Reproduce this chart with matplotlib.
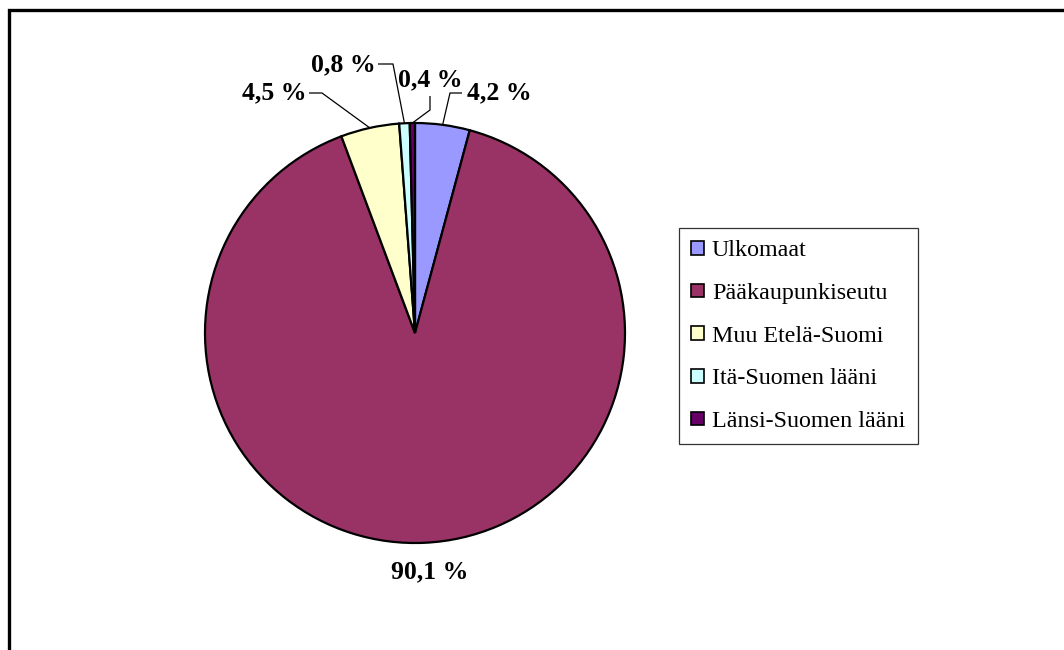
import matplotlib
matplotlib.use("Agg")
import matplotlib.pyplot as plt
from matplotlib.patches import Rectangle
import numpy as np

categories = ["Ulkomaat", "Pääkaupunkiseutu", "Muu Etelä-Suomi",
              "Itä-Suomen lääni", "Länsi-Suomen lääni"]
values = [4.2, 90.1, 4.5, 0.8, 0.4]
labels = ["4,2 %", "90,1 %", "4,5 %", "0,8 %", "0,4 %"]
colors = ["#9999FF", "#993366", "#FFFFCC", "#CCFFFF", "#660066"]

W, H = 1064, 650
fig = plt.figure(figsize=(W / 100, H / 100), dpi=100)
fig.patch.set_facecolor("white")
ax = fig.add_axes([0, 0, 1, 1])

cx, cy, R = 415, H - 333, 210
wedges, _ = ax.pie(values, colors=colors, startangle=90, counterclock=False,
                   center=(cx, cy), radius=R, frame=True,
                   wedgeprops=dict(edgecolor="black", linewidth=1.6))
ax.set_xlim(0, W)
ax.set_ylim(0, H)
ax.set_aspect("equal")
ax.axis("off")

# label positions (pixel coords from top-left): text anchor, elbow, text end, alignment
label_layout = {
    0: dict(text=(467, 93), ha="left", elbow=(450, 93), end=(462, 93)),
    2: dict(text=(307, 93), ha="right", elbow=(322, 93), end=(309, 93)),
    3: dict(text=(376, 65), ha="right", elbow=(393, 64), end=(378, 64)),
    4: dict(text=(430, 80), ha="center", elbow=(430, 110), end=(430, 96)),
}
font_lab = dict(family="Liberation Serif", fontweight="bold", fontsize=18.5)

for i, w in enumerate(wedges):
    mid = np.deg2rad((w.theta1 + w.theta2) / 2)
    ex, ey = cx + R * np.cos(mid), cy + R * np.sin(mid)
    if i in label_layout:
        L = label_layout[i]
        tx, ty = L["text"]
        ax.text(tx, H - ty, labels[i], ha=L["ha"], va="center", **font_lab)
        xs = [ex, L["elbow"][0], L["end"][0]]
        ys = [ey, H - L["elbow"][1], H - L["end"][1]]
        ax.plot(xs, ys, color="black", linewidth=0.9, solid_capstyle="butt")
    else:
        ax.text(430, H - 572, labels[i], ha="center", va="center", **font_lab)

leg = ax.legend(wedges, categories, loc="upper left",
                bbox_to_anchor=(679 / W, 1 - 228 / H),
                bbox_transform=fig.transFigure,
                prop=dict(family="Liberation Serif", size=17.3),
                frameon=True, fancybox=False, shadow=False,
                handlelength=0.5, handleheight=0.5, handletextpad=0.35,
                labelspacing=0.9, borderpad=0.52, borderaxespad=0)
leg.get_frame().set_edgecolor("black")
leg.get_frame().set_linewidth(0.9)
for h in leg.legend_handles:
    h.set_linewidth(1.2)

# outer chart border (extends past right and bottom edges)
fig.patches.append(Rectangle((8.5 / W, -0.2), 1.5, 1.2 - 10 / H,
                             transform=fig.transFigure, fill=False,
                             edgecolor="black", linewidth=2.4))

fig.savefig("out.png", dpi=100, facecolor="white")
